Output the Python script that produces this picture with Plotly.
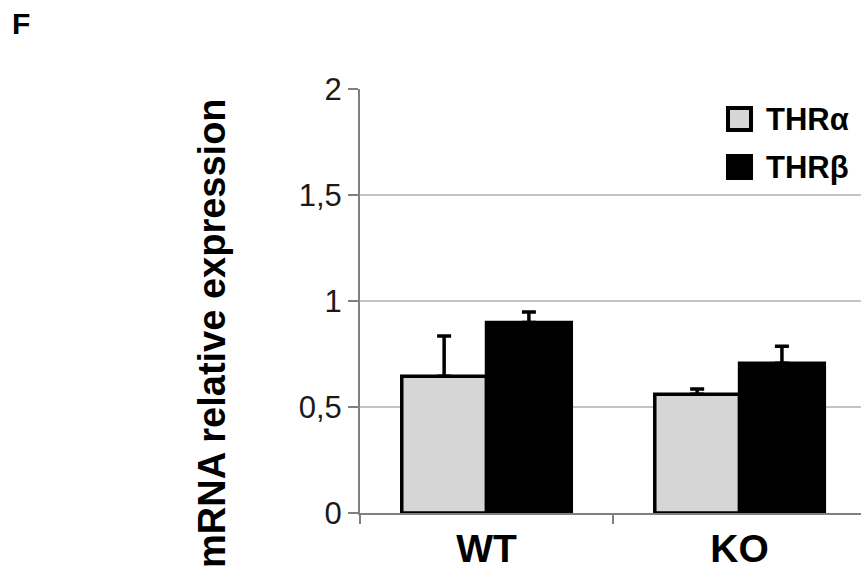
import plotly.graph_objects as go

categories = ["WT", "KO"]
series_names = ["THRα", "THRβ"]
thr_alpha = [0.645, 0.56]
thr_alpha_err = [0.19, 0.025]
thr_beta = [0.898, 0.706]
thr_beta_err = [0.05, 0.08]
y_ticks = [0, 0.5, 1, 1.5, 2]
colors = ["#d6d6d6", "black"]

FONT = "Liberation Sans, Arial, sans-serif"
W, H = 861, 578
L, R, T, B = 360, 0, 89, 65
PW, PH = W - L - R, H - T - B


def px_x(x):
    return (x - L) / PW


def px_y(y):
    return (H - B - y) / PH


fig = go.Figure()
for name, vals, errs, col in [(series_names[0], thr_alpha, thr_alpha_err, colors[0]),
                              (series_names[1], thr_beta, thr_beta_err, colors[1])]:
    fig.add_trace(go.Bar(
        name=name, x=categories, y=vals, showlegend=False,
        marker=dict(color=col, line=dict(color="black", width=3.5)),
        error_y=dict(type="data", symmetric=False, array=errs,
                     arrayminus=[0] * len(errs), color="black", thickness=3.5, width=7),
    ))

shapes = []
annotations = []
# legend (drawn manually to match the large swatches)
legend_rows = [119, 167]
for name, col, yc in zip(series_names, colors, legend_rows):
    shapes.append(dict(type="rect", xref="paper", yref="paper",
                       x0=px_x(728), x1=px_x(751), y0=px_y(yc - 11), y1=px_y(yc + 11),
                       fillcolor=col, line=dict(color="black", width=4)))
    annotations.append(dict(text=name, xref="paper", yref="paper", x=px_x(764), y=px_y(yc),
                            xanchor="left", yanchor="middle", showarrow=False,
                            font=dict(size=31, family=FONT, weight="bold", color="black")))

annotations.append(dict(text="mRNA relative expression", xref="paper", yref="paper",
                        x=px_x(212), y=px_y(333), xanchor="center", yanchor="middle",
                        textangle=-90, showarrow=False,
                        font=dict(size=38, family=FONT, weight="bold", color="black")))
annotations.append(dict(text="F", xref="paper", yref="paper",
                        x=px_x(10), y=px_y(24), xanchor="left", yanchor="middle",
                        showarrow=False,
                        font=dict(size=30, family=FONT, weight="bold", color="black")))

fig.update_layout(
    width=W, height=H,
    margin=dict(l=L, r=R, t=T, b=B),
    paper_bgcolor="white", plot_bgcolor="white",
    separators=",.",
    barmode="group", bargap=0.33, bargroupgap=0,
    font=dict(family=FONT, color="black"),
    showlegend=False,
    xaxis=dict(range=[-0.5, 1.48], showline=True, linecolor="#808080", linewidth=2,
               ticks="outside", tickson="boundaries", ticklen=9, tickcolor="#808080",
               tickwidth=2,
               tickfont=dict(size=39, family=FONT, weight="bold", color="black"),
               showgrid=False, zeroline=False),
    yaxis=dict(range=[0, 2], tickvals=y_ticks, showline=True, linecolor="#808080",
               linewidth=2, ticks="outside", ticklen=10, tickcolor="#808080", tickwidth=2,
               tickfont=dict(size=31, family=FONT, color="#1a1a1a"),
               showgrid=True, gridcolor="#c4c4c4", gridwidth=2, zeroline=False),
    shapes=shapes,
    annotations=annotations,
)

fig.write_html("out.html")
